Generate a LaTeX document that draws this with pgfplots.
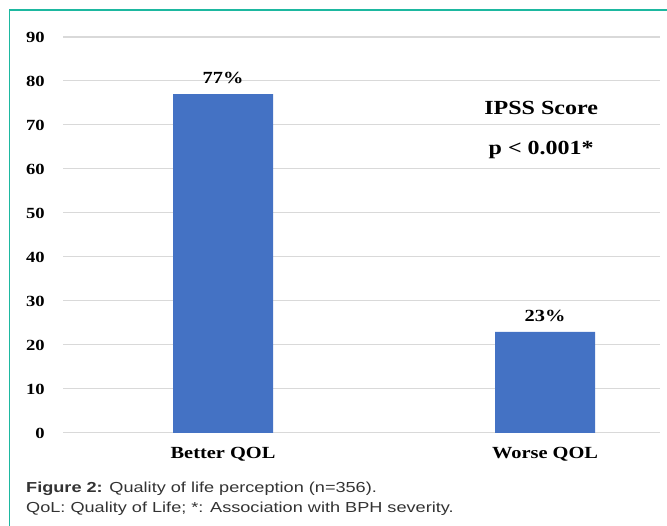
\documentclass[border=0pt]{standalone}
\usepackage{fontspec}
\setmainfont{Liberation Serif}[FakeStretch=1.2]
\newfontfamily\capfont{Liberation Sans}[FakeStretch=1.25]
\usepackage{pgfplots}
\pgfplotsset{compat=1.18}
\definecolor{barblue}{HTML}{4472C4}
\definecolor{tealline}{HTML}{1DB8A0}
\definecolor{gridgray}{HTML}{D9D9D9}
\definecolor{captext}{HTML}{333333}
\begin{document}
\begin{tikzpicture}[x=1pt,y=1pt]
\path[use as bounding box] (0,0) rectangle (667,526);
\draw[tealline, line width=1.3pt] (9.5,0) -- (9.5,516) -- (667,516);
\node[anchor=base west, inner sep=0pt, font=\capfont\fontsize{14.5}{16}\selectfont, text=captext] at (26,33) {\textbf{Figure 2:} Quality of life perception (n=356).};
\node[anchor=base west, inner sep=0pt, font=\capfont\fontsize{14.5}{16}\selectfont, text=captext] at (26,13) {QoL: Quality of Life; *: Association with BPH severity.};
\begin{axis}[
  at={(63pt,93pt)}, anchor=south west,
  width=597pt, height=396pt, scale only axis,
  xmin=-0.497, xmax=1.357, ymin=0, ymax=90,
  ytick={0,10,...,90}, xtick={0,1}, xticklabels={Better QOL, Worse QOL},
  axis line style={draw=none}, major tick length=0pt,
  ymajorgrids, grid style={gridgray, line width=1pt},
  clip=false,
  /pgf/number format/assume math mode=true,
  yticklabel style={font=\bfseries\fontsize{15.5}{17}\selectfont, anchor=east, inner sep=0pt, xshift=-18pt},
  xticklabel style={font=\bfseries\fontsize{17}{19}\selectfont, anchor=base, inner sep=0pt, yshift=-26pt},
]
\addplot[ybar, fill=barblue, draw=none, bar width=100pt,
  point meta=explicit symbolic, nodes near coords,
  every node near coord/.append style={font=\bfseries\fontsize{17}{19}\selectfont, anchor=base, inner sep=0pt, yshift=10.5pt, text=black}]
  coordinates {(0,77) [77\%] (1,23) [23\%]};
\node[anchor=base, inner sep=0pt, font=\bfseries\fontsize{20}{22}\selectfont] at (axis cs:0.988,72.3) {IPSS Score};
\node[anchor=base, inner sep=0pt, font=\bfseries\fontsize{20}{22}\selectfont] at (axis cs:0.988,63.4) {p < 0.001*};
\end{axis}
\end{tikzpicture}
\end{document}
